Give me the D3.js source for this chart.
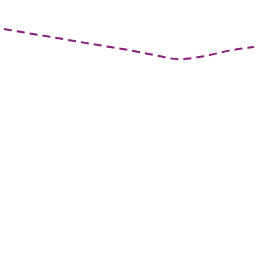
<!DOCTYPE html>
<html>
<head>
<meta charset="utf-8">
<script src="https://cdn.jsdelivr.net/npm/d3@7"></script>
<style>
  html, body { margin: 0; padding: 0; background: #fff; }
  svg { display: block; }
</style>
</head>
<body>
<div id="chart"></div>
<script>
// series
const steps = [0, 1, 2, 3, 4, 5, 6, 7, 8, 9, 10];
const values = [88.67, 86.99, 85.35, 83.67, 82.03, 80.43, 78.55, 76.88, 78.05, 80.23, 81.64];

const width = 256, height = 256;

const svg = d3.select("#chart").append("svg")
    .attr("width", width)
    .attr("height", height);

const x = d3.scaleLinear().domain([0, 10]).range([4, 254]);
const y = d3.scaleLinear().domain([0, 100]).range([height, 0]);

const line = d3.line()
    .x((d, i) => x(steps[i]))
    .y(d => y(d))
    .curve(d3.curveMonotoneX);

svg.append("path")
    .datum(values)
    .attr("d", line)
    .attr("fill", "none")
    .attr("stroke", "#8a1b7d")
    .attr("stroke-width", 2)
    .attr("stroke-dasharray", "8,5");
</script>
</body>
</html>
